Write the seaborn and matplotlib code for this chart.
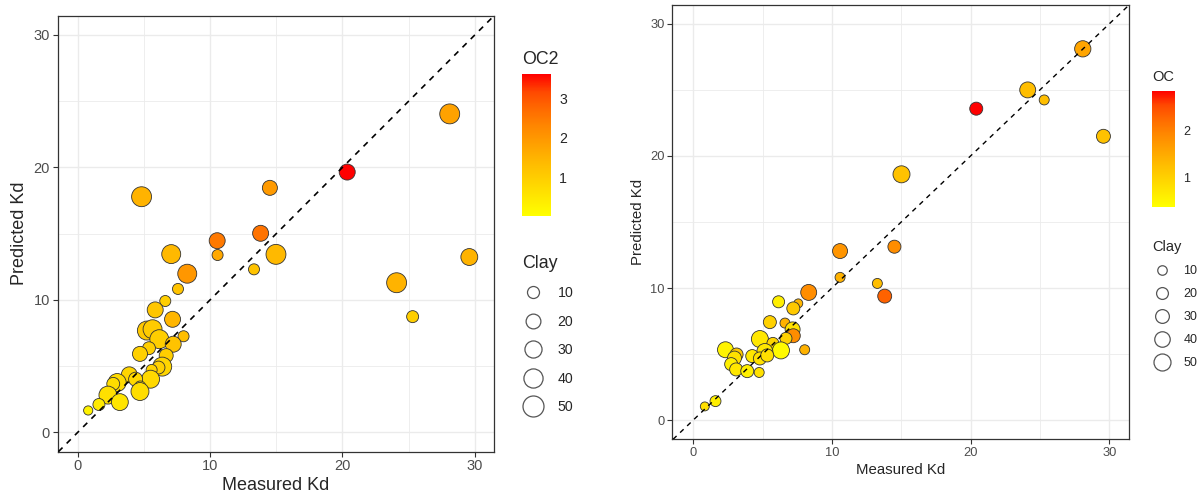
import numpy as np
import pandas as pd
import matplotlib as mpl
mpl.use('Agg')
import matplotlib.pyplot as plt
from matplotlib.colors import LinearSegmentedColormap, Normalize
from matplotlib.lines import Line2D
import seaborn as sns

sns.set_style('whitegrid', {'axes.edgecolor': '.2', 'grid.color': '.92',
                            'xtick.bottom': True, 'ytick.left': True})
plt.rcParams['font.family'] = ['Liberation Sans', 'DejaVu Sans']

# left panel (OC2)
left_measured = [4.83, 14.52, 10.54, 13.82, 20.36, 28.1, 24.09, 25.30, 29.58, 14.98,
                 10.57, 13.32, 7.07, 8.28, 7.58, 6.62, 5.86, 7.17, 5.23, 5.66,
                 6.17, 8.0, 7.22, 5.39, 4.71, 6.69, 6.39, 6.11, 5.59, 5.51,
                 3.9, 4.38, 4.73, 4.71, 2.99, 2.69, 2.29, 3.19, 1.61, 0.80]
left_predicted = [17.79, 18.46, 14.47, 15.03, 19.65, 24.04, 11.30, 8.74, 13.24, 13.44,
                  13.39, 12.31, 13.46, 11.98, 10.83, 9.92, 9.25, 8.54, 7.69, 7.79,
                  7.04, 7.26, 6.66, 6.36, 5.93, 5.80, 4.97, 4.90, 4.72, 4.02,
                  4.35, 4.02, 3.47, 3.09, 3.77, 3.67, 2.82, 2.29, 2.11, 1.66]
left_oc2 = [1.5, 1.95, 2.5, 2.6, 3.61, 1.8, 1.5, 1.0, 1.5, 1.4,
            1.7, 1.2, 1.4, 2.0, 1.2, 1.0, 1.15, 1.45, 1.1, 1.05,
            1.0, 1.3, 1.2, 1.0, 0.95, 1.0, 0.85, 0.95, 0.9, 0.8,
            0.85, 0.8, 0.75, 0.7, 0.75, 0.7, 0.65, 0.55, 0.45, 0.3]
left_clay = [44, 21, 25, 25, 25, 44, 44, 10, 29, 44,
             7, 7, 39, 39, 7, 7, 25, 25, 39, 39,
             39, 7, 25, 13, 21, 17, 39, 13, 7, 34,
             25, 17, 7, 34, 34, 13, 34, 29, 10, 2]

# right panel (OC)
right_measured = [28.09, 24.12, 25.31, 20.41, 29.58, 15.02, 14.51, 13.28, 13.81, 10.59,
                  10.59, 8.33, 6.16, 7.58, 7.22, 5.53, 6.62, 7.17, 7.22, 6.69,
                  4.81, 5.75, 6.33, 5.17, 8.04, 2.33, 3.13, 2.98, 4.26, 4.81,
                  5.34, 2.74, 3.1, 3.9, 4.76, 1.61, 0.84]
right_predicted = [28.11, 25.0, 24.24, 23.58, 21.49, 18.61, 13.13, 10.35, 9.39, 12.8,
                   10.81, 9.67, 8.96, 8.84, 8.46, 7.42, 7.35, 6.87, 6.39, 6.19,
                   6.14, 5.81, 5.28, 5.2, 5.33, 5.33, 4.97, 4.7, 4.85, 4.67,
                   4.9, 4.24, 3.84, 3.71, 3.61, 1.44, 1.04]
right_oc = [1.55, 1.25, 1.25, 2.83, 1.2, 1.2, 1.85, 1.25, 2.3, 1.75,
            1.4, 1.85, 0.6, 1.35, 1.1, 1.0, 1.4, 0.8, 1.85, 1.0,
            0.7, 0.95, 0.45, 0.7, 1.4, 0.55, 1.1, 0.8, 0.7, 0.8,
            0.8, 0.6, 0.7, 0.6, 0.8, 0.6, 0.8]
right_clay = [45, 43, 12, 26, 31, 50, 26, 12, 31, 37,
              12, 43, 21, 8, 26, 26, 12, 37, 31, 21,
              50, 21, 50, 43, 12, 43, 26, 31, 26, 26,
              26, 26, 26, 26, 12, 16, 8]

clay_levels = [10, 20, 30, 40, 50]

# ggplot-like yellow -> red gradient (Lab interpolated)
grad = LinearSegmentedColormap.from_list(
    'yr', ['#FFFF00', '#FFE800', '#FFD100', '#FFBA00', '#FFA100',
           '#FF8800', '#FF6B00', '#FF4900', '#FF0000'])

fig = plt.figure(figsize=(12.03, 4.95), dpi=100)


def draw_panel(ax, cax, x, y, hue, clay, hue_lim, size_lim, hue_name,
               tick_fs, title_fs, leg_fs, leg_title_fs, leg_anchor, leg_spacing,
               line_w):
    df = pd.DataFrame({'Measured Kd': x, 'Predicted Kd': y,
                       hue_name: hue, 'Clay': clay})
    norm = Normalize(*hue_lim)
    sns.scatterplot(data=df, x='Measured Kd', y='Predicted Kd', hue=hue_name,
                    palette=grad, hue_norm=norm, size='Clay', sizes=size_lim,
                    size_norm=(0, 50), edgecolor='#333333', linewidth=0.6,
                    legend=False, ax=ax, zorder=2)
    ax.axline((0, 0), slope=1, color='black', lw=line_w, ls=(0, (3.5, 3.5)), zorder=3)
    ax.set_xlim(-1.5, 31.45)
    ax.set_ylim(-1.45, 31.45)
    ax.set_xticks([0, 10, 20, 30])
    ax.set_yticks([0, 10, 20, 30])
    ax.set_xticks([5, 15, 25], minor=True)
    ax.set_yticks([5, 15, 25], minor=True)
    ax.grid(which='major', color='#EBEBEB', lw=1.0)
    ax.grid(which='minor', color='#EBEBEB', lw=0.6)
    ax.tick_params(which='major', length=3.5, width=0.8, color='#333333',
                   labelsize=tick_fs, labelcolor='#4D4D4D', pad=2)
    ax.tick_params(which='minor', length=0)
    for sp in ax.spines.values():
        sp.set_color('#333333')
        sp.set_linewidth(0.9)
    ax.set_xlabel('Measured Kd', fontsize=title_fs, labelpad=3)
    ax.set_ylabel('Predicted Kd', fontsize=title_fs, labelpad=4)

    # colour bar
    sm = mpl.cm.ScalarMappable(norm=norm, cmap=grad)
    cb = fig.colorbar(sm, cax=cax)
    cb.outline.set_visible(False)
    cb.set_ticks([t for t in [1, 2, 3] if t < hue_lim[1]])
    cax.tick_params(left=True, right=True, direction='in', color='white',
                    length=4, width=0.8, labelsize=leg_fs, pad=6)
    cax.set_title(hue_name, loc='left', fontsize=leg_title_fs, pad=7)

    # size legend
    s0, s50 = size_lim
    handles = [Line2D([], [], ls='', marker='o', mfc='white', mec='#555555', mew=0.9,
                      markersize=np.sqrt(s0 + c / 50 * (s50 - s0)))
               for c in clay_levels]
    leg = fig.legend(handles, [str(c) for c in clay_levels], title='Clay',
                     loc='upper left', bbox_to_anchor=leg_anchor, frameon=False,
                     fontsize=leg_fs, title_fontsize=leg_title_fs,
                     labelspacing=leg_spacing, handlelength=1.6, handletextpad=0.9,
                     borderpad=0, borderaxespad=0, alignment='left')
    return leg


ax_l = fig.add_axes([0.048, 0.0875, 0.3627, 0.8808])
cax_l = fig.add_axes([0.4339, 0.5642, 0.0239, 0.2863])
draw_panel(ax_l, cax_l, left_measured, left_predicted, left_oc2, left_clay,
           (0.04, 3.61), (36.2, 228.6), 'OC2', 10.5, 13, 10.2, 12.8,
           (522 / 1203, 1 - 255 / 495), 1.02, 1.2)

ax_r = fig.add_axes([0.5589, 0.1125, 0.3799, 0.878])
cax_r = fig.add_axes([0.9576, 0.5824, 0.0189, 0.2343])
draw_panel(ax_r, cax_r, right_measured, right_predicted, right_oc, right_clay,
           (0.38, 2.83), (21.0, 149.8), 'OC', 9.3, 10.8, 9, 10.5,
           (1152 / 1203, 1 - 240 / 495), 0.88, 1.0)

fig.savefig('out.png', dpi=100)
